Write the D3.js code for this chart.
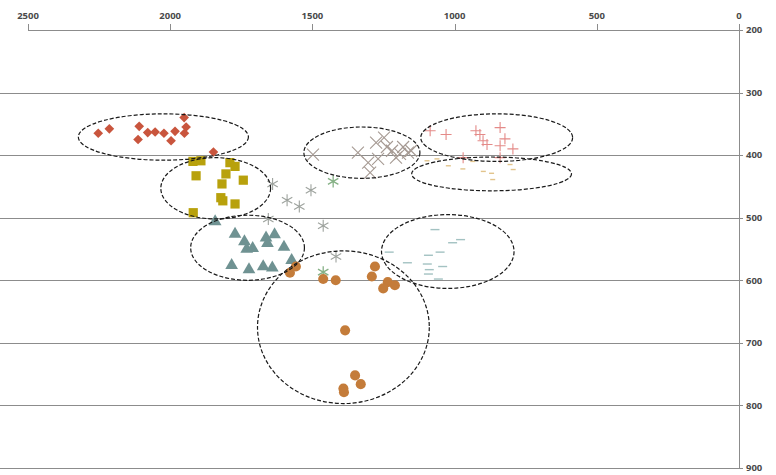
<!DOCTYPE html>
<html>
<head>
<meta charset="utf-8">
<script src="https://cdn.jsdelivr.net/npm/d3@7"></script>
<style>
  html, body { margin: 0; padding: 0; background: #fff; }
  svg { display: block; }
  .tick-label { font-family: "Open Sans", "DejaVu Sans", sans-serif; font-size: 9.5px; font-weight: 700; fill: #4a4a4a; }
</style>
</head>
<body>
<svg id="chart" width="776" height="475"></svg>
<script>
// Axis ticks
const xTicks = [2500, 2000, 1500, 1000, 500, 0];
const yTicks = [200, 300, 400, 500, 600, 700, 800, 900];

// Point series: [x, y]
const diamonds = [[2253,365],[2214,358],[2109,354],[2113,375],[2079,364],[2053,363],[2022,365],[1997,377],[1983,362],[1951,340],[1944,355],[1950,365],[1848,395]];
const squares = [[1920,410],[1892,409],[1909,433],[1919,492],[1790,412],[1772,418],[1804,430],[1818,446],[1822,468],[1815,473],[1772,478],[1743,440]];
const triangles = [[1772,526],[1739,538],[1731,550],[1710,549],[1663,532],[1658,541],[1633,527],[1600,547],[1573,568],[1784,576],[1723,583],[1673,578],[1641,580],[1842,506]];
const crosses = [[1498,399],[1340,396],[1304,412],[1297,428],[1276,380],[1248,372],[1238,387],[1220,393],[1206,404],[1192,398],[1181,387],[1164,396],[1153,393],[1269,406]];
const stars = [[1640,446],[1589,472],[1546,482],[1505,456],[1462,513],[1417,562],[1655,502]];
const greenStars = [[1427,442],[1462,587]];
const pluses = [[1086,361],[1030,367],[925,361],[911,367],[900,377],[886,383],[840,356],[823,374],[840,385],[795,390],[840,404],[970,404]];
const tanDashes = [[1097,409],[1062,406],[1022,417],[971,422],[936,410],[899,426],[870,429],[866,439],[805,415],[794,423]];
const tealDashes = [[1069,519],[979,535],[1007,540],[1051,555],[1092,560],[1230,555],[1166,572],[1096,574],[1042,578],[1089,583],[1092,590],[1057,598]];
const circles = [[1579,588],[1558,578],[1462,598],[1418,600],[1280,578],[1291,594],[1235,603],[1251,613],[1210,608],[1385,680],[1350,752],[1330,766],[1391,773],[1389,779]];

// Group outlines: [centre x, centre y, radius x, radius y]
const outlines = [[2024,371,299,37],[1840,453,193,49],[1728,548,200,52],[1326,396,204,41],[852,372,267,38],[870,430,281,27],[1024,554,233,59],[1391,675,302,122]];

const svg = d3.select("#chart");
const x = d3.scaleLinear().domain([2500, 0]).range([28, 739]);
const y = d3.scaleLinear().domain([200, 900]).range([30, 468]);

// Horizontal gridlines
svg.append("g").selectAll("line").data(yTicks.slice(1)).join("line")
  .attr("x1", 0).attr("x2", x(0))
  .attr("y1", d => Math.round(y(d)) + 0.5).attr("y2", d => Math.round(y(d)) + 0.5)
  .attr("stroke", "#8c8c8c").attr("stroke-width", 1);

// Top (x) axis
const xAxis = svg.append("g");
xAxis.append("line").attr("x1", x(2500)).attr("x2", x(0))
  .attr("y1", Math.round(y(200)) + 0.5).attr("y2", Math.round(y(200)) + 0.5)
  .attr("stroke", "#8c8c8c");
xAxis.selectAll(".t").data(xTicks).join("line").attr("class", "t")
  .attr("x1", d => Math.round(x(d)) + 0.5).attr("x2", d => Math.round(x(d)) + 0.5)
  .attr("y1", y(200) - 6).attr("y2", y(200))
  .attr("stroke", "#8c8c8c");
xAxis.selectAll("text").data(xTicks).join("text").attr("class", "tick-label")
  .attr("x", d => x(d)).attr("y", 19).attr("text-anchor", "middle")
  .text(d => d);

// Right (y) axis
const yAxis = svg.append("g");
yAxis.append("line").attr("x1", Math.round(x(0)) + 0.5).attr("x2", Math.round(x(0)) + 0.5)
  .attr("y1", y(200)).attr("y2", y(900)).attr("stroke", "#8c8c8c");
yAxis.selectAll(".t").data(yTicks).join("line").attr("class", "t")
  .attr("x1", x(0) - 3).attr("x2", x(0) + 4)
  .attr("y1", d => Math.round(y(d)) + 0.5).attr("y2", d => Math.round(y(d)) + 0.5)
  .attr("stroke", "#8c8c8c");
yAxis.selectAll("text").data(yTicks).join("text").attr("class", "tick-label")
  .attr("x", x(0) + 7).attr("y", d => y(d)).attr("dy", "0.35em")
  .text(d => d);

// Marker shapes
const sym = (type, size) => d3.symbol().type(type).size(size)();
const plusPath = r => `M${-r},0H${r}M0,${-r}V${r}`;
const xPath = r => `M${-r},${-r}L${r},${r}M${-r},${r}L${r},${-r}`;
const starPath = r => `M0,${-r}V${r}M${-r*0.87},${-r*0.5}L${r*0.87},${r*0.5}M${-r*0.87},${r*0.5}L${r*0.87},${-r*0.5}`;
const dashPath = r => `M${-r},0H${r}`;

function plot(data, path, opts) {
  svg.append("g").selectAll("path").data(data).join("path")
    .attr("transform", d => `translate(${x(d[0])},${y(d[1])})`)
    .attr("d", path)
    .attr("fill", opts.fill || "none")
    .attr("stroke", opts.stroke || "none")
    .attr("stroke-width", opts.width || 1);
}

plot(diamonds, sym(d3.symbolDiamond2, 60), { fill: "#c9553d" });
plot(squares, sym(d3.symbolSquare, 85), { fill: "#b8a10c" });
plot(triangles, sym(d3.symbolTriangle, 70), { fill: "#6f9292" });
plot(crosses, xPath(6), { stroke: "#a69a93", width: 1.1 });
plot(stars, starPath(6), { stroke: "#9ea39e", width: 1.1 });
plot(greenStars, starPath(6), { stroke: "#86b186", width: 1.3 });
plot(pluses, plusPath(5.5), { stroke: "#e48a88", width: 1.1 });
plot(tanDashes, dashPath(2.5), { stroke: "#e2c48c", width: 1.4 });
plot(tealDashes, dashPath(4.5), { stroke: "#a3c2c2", width: 1.4 });
plot(circles, sym(d3.symbolCircle, 80), { fill: "#c47c3a" });

// Dashed outlines around each group
svg.append("g").selectAll("ellipse").data(outlines).join("ellipse")
  .attr("cx", d => x(d[0])).attr("cy", d => y(d[1]))
  .attr("rx", d => Math.abs(x(d[0] + d[2]) - x(d[0])))
  .attr("ry", d => Math.abs(y(d[1] + d[3]) - y(d[1])))
  .attr("fill", "none").attr("stroke", "#1a1a1a")
  .attr("stroke-width", 1.2).attr("stroke-dasharray", "4 2");
</script>
</body>
</html>
